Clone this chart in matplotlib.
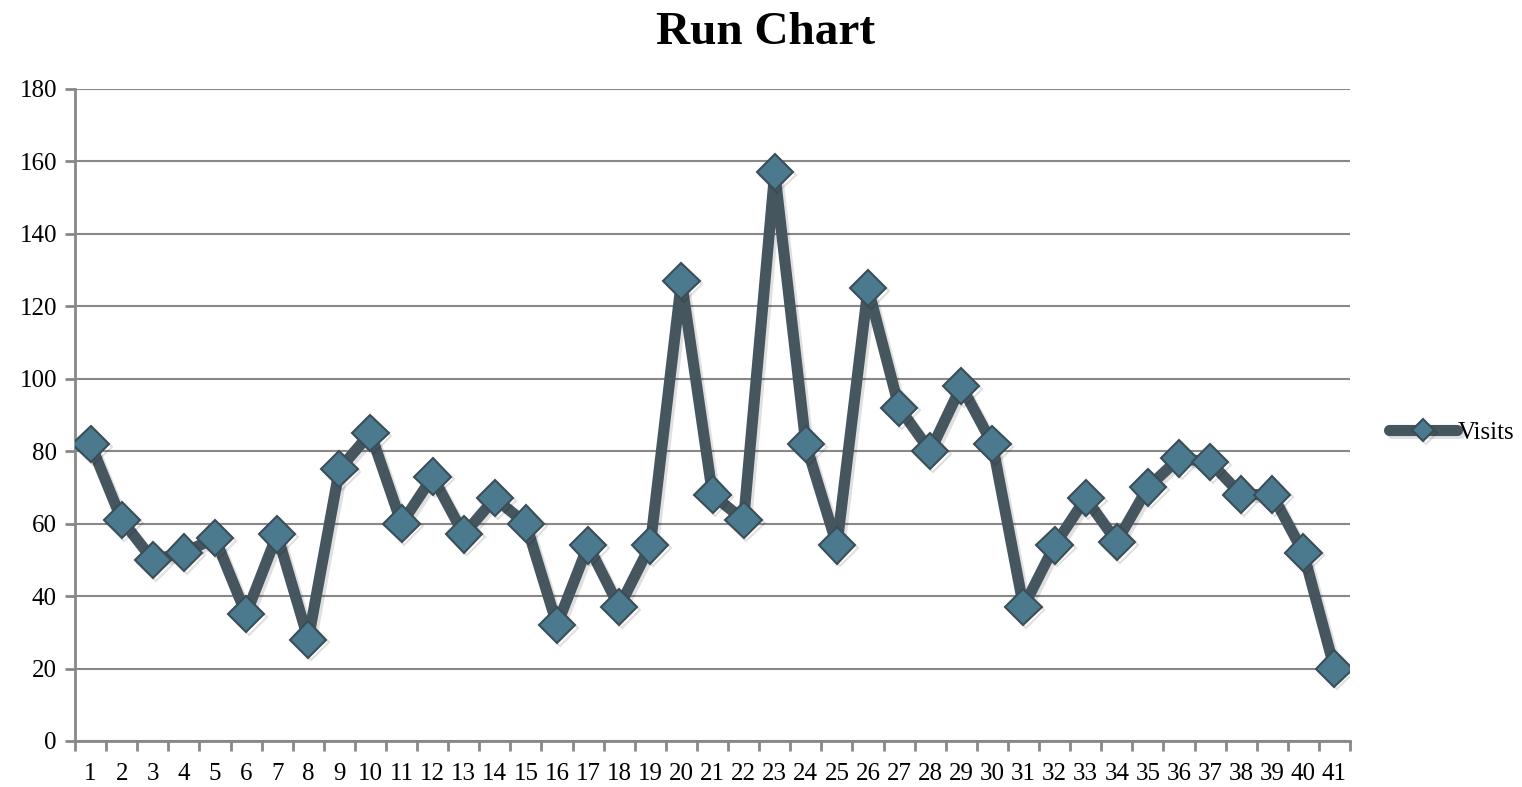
import matplotlib.pyplot as plt
import matplotlib.patheffects as pe

# Daily visit counts
days = list(range(1, 42))
visits = [82, 61, 50, 52, 56, 35, 57, 28, 75, 85,
          60, 73, 57, 67, 60, 32, 54, 37, 54, 127,
          68, 61, 157, 82, 54, 125, 92, 80, 98, 82,
          37, 54, 67, 55, 70, 78, 77, 68, 68, 52,
          20]
y_ticks = list(range(0, 181, 20))

plt.rcParams['font.family'] = ['Liberation Serif', 'DejaVu Serif']

fig = plt.figure(figsize=(15.22, 7.87), dpi=100)
ax = fig.add_axes([0.0493, 0.0585, 0.8377, 0.8285])

shadow = [pe.SimpleLineShadow(offset=(2, -2), alpha=0.12, shadow_color='black'), pe.Normal()]
ax.plot(days, visits, color='#46565f', linewidth=8,
        solid_joinstyle='round', solid_capstyle='round',
        marker='D', markersize=18.5, markerfacecolor='#4b7a8f',
        markeredgecolor='#3b4e58', markeredgewidth=1.5,
        label='Visits', zorder=3, path_effects=shadow)

ax.set_xlim(0.5, 41.5)
ax.set_ylim(0, 180)
ax.set_yticks(y_ticks)
ax.set_xticks(days)
ax.set_xticks([d + 0.5 for d in range(0, 42)], minor=True)
ax.tick_params(axis='x', which='major', length=0, pad=16, labelsize=18)
ax.tick_params(axis='x', which='minor', length=7, width=2, color='#888888', direction='out')
ax.tick_params(axis='y', length=7, width=2, color='#888888', labelsize=18, pad=6)

ax.grid(axis='y', color='#888888', linewidth=1.5)
ax.set_axisbelow(True)
for side in ('top', 'right'):
    ax.spines[side].set_visible(False)
for side in ('left', 'bottom'):
    ax.spines[side].set_color('#888888')
    ax.spines[side].set_linewidth(2)

fig.suptitle('Run Chart', fontsize=34, fontweight='bold', y=0.985, x=0.503)

leg = ax.legend(loc='center left', bbox_to_anchor=(0.898, 0.45), bbox_transform=fig.transFigure,
                frameon=False, fontsize=18, handlelength=2.7, handletextpad=0.05,
                markerscale=0.6)

fig.savefig('out.png', dpi=100)
